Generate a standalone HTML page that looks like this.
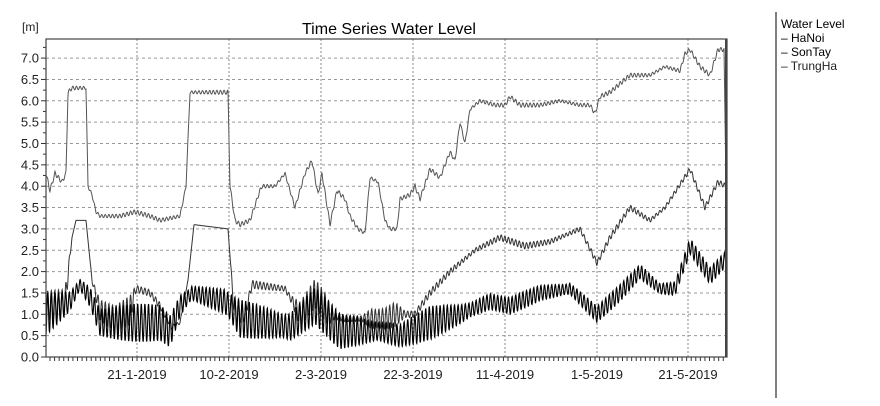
<!DOCTYPE html>
<html><head><meta charset="utf-8"><style>
body{margin:0;background:#fff;width:880px;height:401px;overflow:hidden;font-family:"Liberation Sans",sans-serif}
</style></head><body>
<svg id="s" width="880" height="401" xmlns="http://www.w3.org/2000/svg" font-family="Liberation Sans, sans-serif">
<text x="389" y="34" font-size="16" text-anchor="middle" fill="#000">Time Series Water Level</text>
<text x="22" y="31" font-size="12" fill="#222">[m]</text>
<line x1="776" y1="12" x2="776" y2="398" stroke="#000" stroke-width="1"/>
<text x="781" y="28" font-size="12">Water Level</text>
<text x="781" y="42" font-size="12">– HaNoi</text>
<text x="781" y="56" font-size="12">– SonTay</text>
<text x="781" y="70" font-size="12" fill="#222">– TrungHa</text>
<g id="g"></g>
<rect x="46" y="39" width="681" height="318" fill="none" stroke="#444" stroke-width="1.2"/>
<line x1="726" y1="39" x2="726" y2="357" stroke="#444" stroke-width="2"/>
</svg>
<script>
(function(){
var g=document.getElementById('g'),h='';
function Y(v){return 357-v*42.7}
for(var i=0;i<=14;i++){var v=i*0.5,y=Y(v);
 h+='<line x1="41" y1="'+y+'" x2="46" y2="'+y+'" stroke="#333"/>';
 h+='<text x="39" y="'+(y+4.5)+'" font-size="13" text-anchor="end" fill="#222">'+v.toFixed(1)+'</text>';
 if(i>0)h+='<line x1="46" y1="'+y+'" x2="727" y2="'+y+'" stroke="#999" stroke-dasharray="3,3"/>';
 h+='<line x1="43" y1="'+(y-10.7)+'" x2="46" y2="'+(y-10.7)+'" stroke="#333"/>';}
var xs=[137,229,321,413,505,597,688],lb=['21-1-2019','10-2-2019','2-3-2019','22-3-2019','11-4-2019','1-5-2019','21-5-2019'];
for(var i=0;i<7;i++){h+='<line x1="'+xs[i]+'" y1="39" x2="'+xs[i]+'" y2="357" stroke="#888" stroke-dasharray="2,2"/>';
 h+='<text x="'+xs[i]+'" y="379" font-size="13" text-anchor="middle" fill="#222">'+lb[i]+'</text>';}
for(var x=50;x<727;x+=4.58)h+='<line x1="'+x+'" y1="357" x2="'+x+'" y2="361" stroke="#333"/>';
function interp(k,x){for(var i=0;i<k.length-1;i++){if(x<=k[i+1][0]){var t=(x-k[i][0])/(k[i+1][0]-k[i][0]);return k[i][1]+t*(k[i+1][1]-k[i][1]);}}return k[k.length-1][1]}
function path(k,ampK,col,w,P){var d='';for(var x=46;x<=726;x+=0.3){var v=interp(k,x);if(ampK){var a=interp(ampK,x)*(0.6+0.4*Math.abs(Math.sin(x/30)));v+=a*Math.sin(x*2*Math.PI/P);}d+=(d?'L':'M')+x.toFixed(1)+','+Y(v).toFixed(1);}
 h+='<path d="'+d+'" fill="none" stroke="'+col+'" stroke-width="'+w+'"/>';}
var topS=[[46,4.3],[50,3.9],[55,4.3],[62,4.1],[66,4.3],[68,6.2],[72,6.3],[86,6.3],[88,4.0],[92,3.8],[96,3.4],[100,3.3],[120,3.3],[135,3.4],[150,3.3],[160,3.2],[180,3.3],[186,4.0],[190,6.2],[228,6.2],[230,4.0],[235,3.2],[240,3.1],[250,3.2],[260,3.9],[262,4.0],[275,4.0],[285,4.3],[295,3.5],[305,4.3],[312,4.6],[318,3.8],[322,4.3],[330,3.1],[337,3.9],[345,3.7],[350,3.3],[358,3.0],[365,2.9],[370,4.2],[378,4.1],[385,3.2],[390,3.0],[397,3.0],[400,3.7],[410,3.8],[415,4.0],[420,3.7],[430,4.4],[440,4.2],[450,4.8],[455,4.6],[460,5.5],[465,5.0],[470,5.8],[480,6.0],[495,5.9],[505,5.9],[510,6.1],[520,5.9],[540,5.9],[560,6.0],[580,5.9],[590,5.9],[595,5.7],[600,6.1],[610,6.2],[620,6.4],[630,6.6],[650,6.6],[665,6.8],[680,6.7],[685,7.1],[690,7.2],[700,6.8],[710,6.6],[718,7.2],[724,7.2],[726,4.0]];
var topA=[[46,0.05],[726,0.05]];
var mid=[[46,1.2],[65,1.3],[72,2.8],[76,3.2],[86,3.2],[92,1.8],[100,1.1],[115,0.9],[130,1.1],[136,1.6],[150,1.5],[160,1.2],[172,0.7],[180,0.8],[188,1.8],[194,3.1],[228,3.0],[234,1.1],[245,1.0],[252,1.7],[285,1.6],[300,1.0],[315,1.5],[330,1.0],[345,0.9],[370,0.9],[385,0.9],[395,1.0],[415,1.0],[430,1.5],[450,2.0],[475,2.5],[500,2.8],[525,2.6],[550,2.7],[580,3.0],[597,2.2],[610,2.8],[630,3.5],[650,3.2],[665,3.5],[690,4.4],[705,3.5],[718,4.1],[726,4.0]];
var midA=[[46,0.35],[66,0.3],[72,0],[90,0],[100,0.35],[130,0.35],[136,0.08],[170,0.08],[190,0],[230,0],[236,0.3],[250,0.1],[290,0.1],[300,0.35],[325,0.35],[335,0.08],[362,0.08],[372,0.35],[395,0.35],[405,0.08],[726,0.06]];
var low=[[46,1.0],[70,1.3],[80,1.7],[90,1.4],[100,0.8],[160,0.8],[170,0.6],[180,1.2],[192,1.5],[225,1.3],[240,0.9],[290,0.7],[315,1.2],[340,0.6],[380,0.6],[400,0.5],[430,0.8],[460,1.0],[490,1.3],[510,1.2],[540,1.5],[570,1.6],[597,1.0],[620,1.5],[640,2.0],[660,1.6],[675,1.6],[690,2.6],[710,1.9],[726,2.3]];
var lowA=[[46,0.5],[80,0.15],[95,0.45],[170,0.45],[190,0.25],[230,0.3],[240,0.45],[330,0.45],[400,0.3],[430,0.4],[460,0.3],[500,0.2],[726,0.2]];
path(topS,topA,'#555',1,3.6);path(mid,midA,'#333',1,3.6);path(low,lowA,'#000',1.1,3.6);
g.innerHTML=h;
})();
</script>
</body></html>
